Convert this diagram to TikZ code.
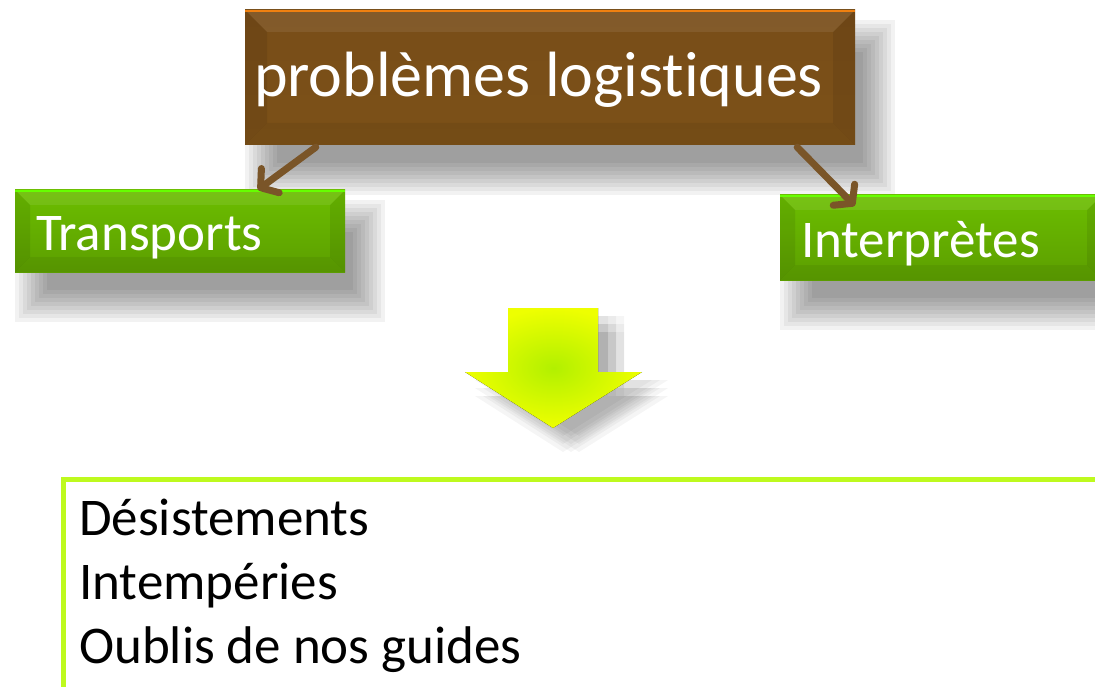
\documentclass[tikz,border=0pt]{standalone}
\usepackage{fontspec}
\setmainfont{Carlito}[Ligatures=NoCommon]
\usepackage{tikz}
\usetikzlibrary{arrows.meta, backgrounds, positioning}
\definecolor{brownHi}{HTML}{784D18}
\definecolor{brownMid}{HTML}{654013}
\definecolor{brownLo}{HTML}{7C5118}
\definecolor{greenHi}{HTML}{6CBE00}
\definecolor{greenMid}{HTML}{4A8400}
\definecolor{greenLo}{HTML}{5C9E00}
\definecolor{linkBrown}{HTML}{7A5528}
\definecolor{arrowYellow}{HTML}{EEFF00}
\definecolor{arrowLime}{HTML}{B2F000}
\definecolor{listBorder}{HTML}{BEFA1E}
\tikzset{
  bevel/.style={path picture={
      \fill[white, opacity=0.08] (path picture bounding box.north west) -- (path picture bounding box.north east)
        -- ([shift={(-#1,-#1)}]path picture bounding box.north east) -- ([shift={(#1,-#1)}]path picture bounding box.north west) -- cycle;
      \fill[black, opacity=0.06] (path picture bounding box.south west) -- (path picture bounding box.south east)
        -- ([shift={(-#1,#1)}]path picture bounding box.south east) -- ([shift={(#1,#1)}]path picture bounding box.south west) -- cycle;
      \fill[black, opacity=0.08] (path picture bounding box.north west) -- ([shift={(#1,-#1)}]path picture bounding box.north west)
        -- ([shift={(#1,#1)}]path picture bounding box.south west) -- (path picture bounding box.south west) -- cycle;
      \fill[black, opacity=0.08] (path picture bounding box.north east) -- ([shift={(-#1,-#1)}]path picture bounding box.north east)
        -- ([shift={(-#1,#1)}]path picture bounding box.south east) -- (path picture bounding box.south east) -- cycle;
  }},
  brownBox/.style={rectangle, top color=brownHi, middle color=brownMid, bottom color=brownLo, bevel=22pt,
    text=white, font=\fontsize{64}{70}\selectfont},
  greenBox/.style={rectangle, top color=greenHi, middle color=greenMid, bottom color=greenLo, bevel=15pt,
    text=white, font=\fontsize{53}{60}\selectfont},
  link/.style={linkBrown, line width=7pt, line cap=round, -{Straight Barb[length=12pt, width=30pt, round]}},
  listBox/.style={rectangle, draw=listBorder, line width=5pt, anchor=north west},
  itemText/.style={font=\fontsize{53}{63}\selectfont, inner sep=0pt, anchor=base west},
  topGlow/.style={line width=2.5pt, #1},
}
% soft shadow below and right of a box
\newcommand{\softShadow}[1]{%
  \foreach \g in {0,4,...,32}
    \fill[black, opacity=0.05]
      ([shift={(32pt-\g pt,-18pt-\g pt)}]#1.south west) rectangle ([shift={(8pt+\g pt,-42pt+\g pt)}]#1.north east);
}
\begin{document}
\begin{tikzpicture}[x=1pt, y=-1pt]
\useasboundingbox (0,0) rectangle (1095,687);

% boxes
\node (prob) [brownBox, minimum width=610pt, minimum height=135pt, inner xsep=9pt,
  text height=47pt, text depth=8pt] at (550,77.5) {\makebox[592pt][l]{problèmes logistiques}};
\node (transp) [greenBox, minimum width=330pt, minimum height=82pt, inner xsep=21pt,
  text height=46pt, text depth=6pt] at (180,231) {\makebox[288pt][l]{Transports}};
\node (interp) [greenBox, minimum width=322pt, minimum height=85pt, inner xsep=21pt,
  text height=47pt, text depth=6pt] at (941,237.5) {\makebox[280pt][l]{Interprètes}};

% bright top edges
\draw[topGlow={orange!75!brown}] ([yshift=-1pt]prob.north west) -- ([yshift=-1pt]prob.north east);
\draw[topGlow={green!60!yellow}] ([yshift=-1pt]transp.north west) -- ([yshift=-1pt]transp.north east);
\draw[topGlow={green!60!yellow}] ([yshift=-1pt]interp.north west) -- ([yshift=-1pt]interp.north east);

% links
\draw[link] ([shift={(71pt,-2pt)}]prob.south west) -- ([xshift=243pt]transp.north west);
\draw[link] ([shift={(-58pt,-2pt)}]prob.south east) -- ([shift={(75pt,-11pt)}]interp.north west);

% big arrow
\def\bigArrow{(508,308) -- (598,308) -- (598,372) -- (642,372) -- (553,428) -- (465,372) -- (508,372) -- cycle}
\fill[shading=radial, inner color=arrowLime, outer color=arrowYellow] \bigArrow;

% list
\node (liste) [listBox, minimum width=1060pt, minimum height=260pt] at (61,476.5) {};
\foreach \txt [count=\i] in {Désistements, Intempéries, Oublis de nos guides}
  \node (item\i) [itemText] at (79,{535+64*(\i-1)}) {\txt};

% shadows
\begin{scope}[on background layer]
  \softShadow{prob}
  \softShadow{transp}
  \softShadow{interp}
  \foreach \dx in {10,18,26}
    \foreach \dy in {-8,-16,-24}
      \fill[black, opacity=0.04, shift={(\dx pt,\dy pt)}] \bigArrow;
\end{scope}
\end{tikzpicture}
\end{document}
